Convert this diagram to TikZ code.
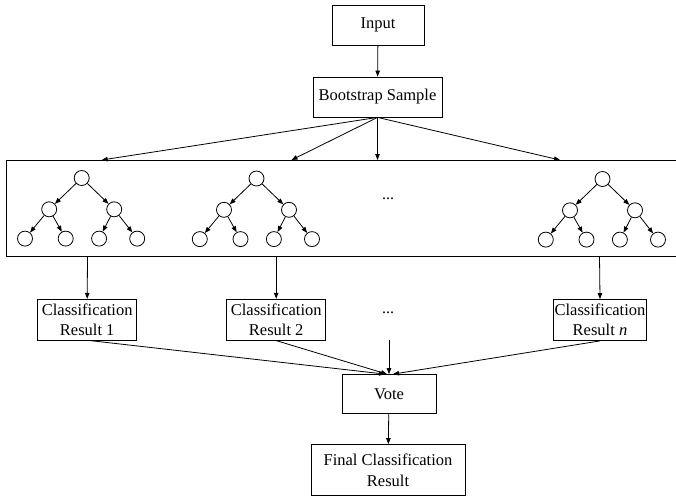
\documentclass[tikz,border=0pt]{standalone}
\usepackage{fontspec}
\setmainfont{Liberation Serif}
\usetikzlibrary{arrows.meta}
\begin{document}
\begin{tikzpicture}[x=1pt,y=-1pt,line width=0.8pt,
  arr/.style={-{Triangle[length=6pt,width=4.5pt]}},
  box/.style={draw, inner sep=0pt, align=center, font=\fontsize{16.5}{21}\selectfont},
  resbox/.style={box, minimum height=41pt, font=\fontsize{16.5}{20}\selectfont},
  treenode/.style={draw, circle, minimum size=15pt, inner sep=0pt},
  dotsnode/.style={inner sep=0pt, font=\fontsize{16}{18}\selectfont},
  tree/.pic={
    \node[treenode] (-r)  at (0,0) {};
    \node[treenode] (-a)  at (-32.5,31.3) {};
    \node[treenode] (-b)  at (32.5,31.3) {};
    \node[treenode] (-aa) at (-56.7,60.6) {};
    \node[treenode] (-ab) at (-16,60.6) {};
    \node[treenode] (-ba) at (17.4,60.6) {};
    \node[treenode] (-bb) at (55.5,60.6) {};
    \draw[arr] (-r) -- (-a);
    \draw[arr] (-r) -- (-b);
    \draw[arr] (-a) -- (-aa);
    \draw[arr] (-a) -- (-ab);
    \draw[arr] (-b) -- (-ba);
    \draw[arr] (-b) -- (-bb);
  }]
\useasboundingbox (0,0) rectangle (676,496);

% top of the flow
\node[box, minimum width=92pt, minimum height=40pt] (input) at (378,25) {Input};
\node[box, minimum width=129pt, minimum height=40pt] (boot) at (377.5,97) {Bootstrap Sample};
\draw[arr] (input) -- (boot);

% forest frame (open on the right)
\coordinate (tl) at (6,160);
\coordinate (bl) at (6,256);
\draw (677,160) -- (tl) -- (bl) -- (677,256);

\coordinate (in1) at (101.7,160);
\coordinate (in2) at (291.5,160);
\coordinate (in3) at (377.5,160);
\coordinate (in4) at (560,160);
\draw[arr] (boot.south) -- (in1);
\draw[arr] (boot.south) -- (in2);
\draw[arr] (boot.south) -- (in3);
\draw[arr] (boot.south) -- (in4);

% the trees
\pic (t1) at (81.7,178) {tree};
\pic (t2) at (256.5,178.5) {tree};
\pic (t3) at (602.5,179) {tree};
\node[dotsnode] (fdots) at (388,199) {...};

% classification results
\node[resbox, minimum width=99pt] (cr1) at (87.2,319.7) {Classification\\Result 1};
\node[resbox, minimum width=99pt] (cr2) at (276.2,319.7) {Classification\\Result 2};
\node[resbox, minimum width=93.5pt] (crn) at (600,320) {Classification\\Result \textit{n}};
\node[dotsnode] (rdots) at (388,313) {...};

\coordinate (out1) at (87.5,256);
\coordinate (out2) at (276.2,256);
\coordinate (out3) at (599.5,256);
\draw[arr] (out1) -- (cr1.north);
\draw[arr] (out2) -- (cr2.north);
\draw[arr] (out3) -- (crn.north);

% vote and final result
\node[box, minimum width=94pt, minimum height=39pt] (vote) at (389,394) {Vote};
\node[box, minimum width=154pt, minimum height=51pt] (final) at (388,470) {Final Classification\\Result};

\coordinate (vmid) at (389,340);
\draw[arr] ([xshift=3pt]cr1.south) -- ([xshift=-4pt]vote.north);
\draw[arr] (cr2.south) -- ([xshift=-2pt]vote.north);
\draw[arr] (vmid) -- (vote.north);
\draw[arr] (crn.south) -- ([xshift=4pt]vote.north);
\draw[arr] (vote) -- (final);
\end{tikzpicture}
\end{document}
